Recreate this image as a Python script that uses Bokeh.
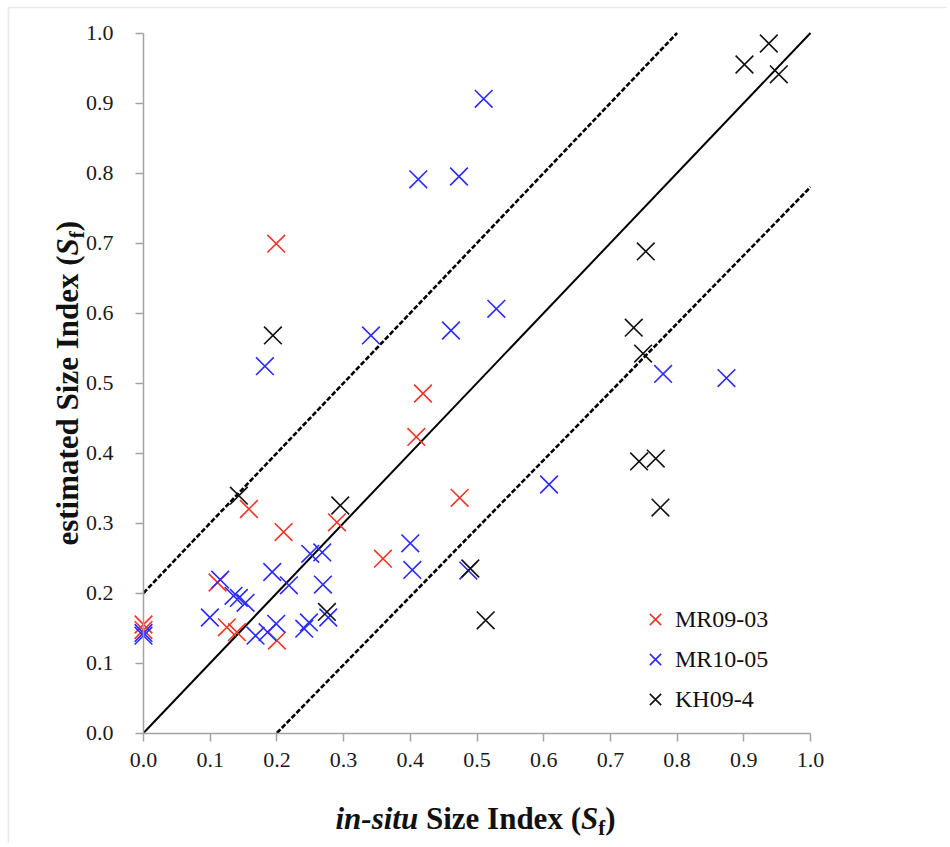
from math import pi
from bokeh.plotting import figure
from bokeh.models import Range1d, FixedTicker, NumeralTickFormatter, Legend, LegendItem, BoxAnnotation
from bokeh.embed import file_html
from bokeh.resources import INLINE
from bokeh.core.properties import value

# ---- data ----
mr0903_x = [0.0, 0.0, 0.199, 0.111, 0.125, 0.140, 0.158, 0.210, 0.290, 0.200, 0.359, 0.409, 0.419, 0.474]
mr0903_y = [0.155, 0.147, 0.699, 0.215, 0.151, 0.144, 0.320, 0.287, 0.301, 0.132, 0.249, 0.423, 0.485, 0.336]

mr1005_x = [0.0, 0.0, 0.0995, 0.115, 0.135, 0.143, 0.153, 0.168, 0.186, 0.199, 0.182, 0.193, 0.218,
            0.241, 0.248, 0.250, 0.268, 0.269, 0.277, 0.341, 0.400, 0.403, 0.412, 0.461, 0.473,
            0.487, 0.510, 0.529, 0.608, 0.779, 0.874]
mr1005_y = [0.143, 0.139, 0.165, 0.219, 0.196, 0.193, 0.186, 0.139, 0.144, 0.156, 0.524, 0.230, 0.211,
            0.149, 0.158, 0.256, 0.258, 0.212, 0.165, 0.568, 0.271, 0.233, 0.791, 0.575, 0.795,
            0.232, 0.906, 0.606, 0.355, 0.513, 0.507]

kh094_x = [0.143, 0.194, 0.275, 0.295, 0.490, 0.513, 0.735, 0.743, 0.749, 0.753, 0.768, 0.775, 0.901, 0.9375, 0.9525]
kh094_y = [0.339, 0.568, 0.173, 0.325, 0.235, 0.161, 0.579, 0.388, 0.542, 0.688, 0.392, 0.322, 0.955, 0.985, 0.941]

series_names = ["MR09-03", "MR10-05", "KH09-4"]
tick_values = [0.0, 0.1, 0.2, 0.3, 0.4, 0.5, 0.6, 0.7, 0.8, 0.9, 1.0]

one_to_one_x = [0.0, 1.0]
one_to_one_y = [0.0, 1.0]
upper_x = [0.0, 0.8]
upper_y = [0.2, 1.0]
lower_x = [0.2, 1.0]
lower_y = [0.0, 0.78]

# ---- layout (pixel positions on the page) ----
W, H = 946, 843
X0, X1 = 143.0, 810.0      # page x of data 0 and 1
Y0, Y1 = 732.5, 32.5       # page y of data 0 and 1
SX = X1 - X0
SY = Y0 - Y1


def dx(px):
    return (px - X0) / SX


def dy(py):
    return (Y0 - py) / SY


FONT = "Liberation Serif"
AXIS_GRAY = "#a3a3a3"
RED = "#f3352a"
BLUE = "#2b2bff"
BLACK = "#111111"

p = figure(width=W, height=H,
           x_range=Range1d(dx(0), dx(W)), y_range=Range1d(dy(H), dy(0)),
           output_backend="svg", toolbar_location=None,
           min_border_left=0, min_border_right=0, min_border_top=0, min_border_bottom=0)
p.outline_line_color = None
p.xgrid.visible = False
p.ygrid.visible = False
p.background_fill_color = "white"
p.border_fill_color = "white"

for ax in (p.xaxis[0], p.yaxis[0]):
    ax.fixed_location = 0
    ax.bounds = (0, 1)
    ax.ticker = FixedTicker(ticks=tick_values)
    ax.formatter = NumeralTickFormatter(format="0.0")
    ax.axis_line_color = AXIS_GRAY
    ax.axis_line_width = 1.5
    ax.major_tick_line_color = AXIS_GRAY
    ax.major_tick_line_width = 1.5
    ax.major_tick_out = 8
    ax.major_tick_in = 0
    ax.minor_tick_out = 0
    ax.minor_tick_in = 0
    ax.major_label_text_font = FONT
    ax.major_label_text_font_size = "22px"
    ax.major_label_text_color = "#1a1a1a"
p.xaxis[0].major_label_standoff = 12
p.yaxis[0].major_label_standoff = 22

# outer box of the figure (only its left and top edges fall inside the picture)
p.add_layout(BoxAnnotation(left=dx(8), right=dx(W + 20), top=dy(7), bottom=dy(H + 20),
                           fill_alpha=0, line_color="#b5b5b5", line_width=1.5, level="underlay"))

# reference lines
p.line(one_to_one_x, one_to_one_y, line_color="black", line_width=2)
p.line(upper_x, upper_y, line_color="black", line_width=2.6, line_dash="5 2")
p.line(lower_x, lower_y, line_color="black", line_width=2.6, line_dash="5 2")

r1 = p.scatter(mr0903_x, mr0903_y, marker="x", size=25, line_color=RED, line_width=1.6)
r2 = p.scatter(mr1005_x, mr1005_y, marker="x", size=25, line_color=BLUE, line_width=1.6)
r3 = p.scatter(kh094_x, kh094_y, marker="x", size=25, line_color=BLACK, line_width=1.6)

legend = Legend(items=[LegendItem(label=series_names[0], renderers=[r1]),
                       LegendItem(label=series_names[1], renderers=[r2]),
                       LegendItem(label=series_names[2], renderers=[r3])],
                location=(635, H - 719), border_line_color=None, background_fill_alpha=0,
                padding=0, margin=0, spacing=0, glyph_width=40, glyph_height=40,
                label_height=40, label_standoff=0, label_text_font=FONT,
                label_text_font_size="24px", label_text_color="#111111")
p.add_layout(legend)

# ---- axis titles (composed from pieces for italics / subscript) ----
F = "31px"
FS = "21px"


def title_piece(xp, yp, txt, align, size, style, angle=0.0):
    p.text(x=[dx(xp)], y=[dy(yp)], text=[txt], angle=angle,
           text_align=align, text_baseline="alphabetic",
           text_font=value(FONT), text_font_size=value(size),
           text_font_style=style, text_color="#111111")


# x title
xb = 818
title_piece(417.7, xb, "in-situ", "right", F, "bold italic")
title_piece(580.45, xb, "Size Index (", "right", F, "bold")
title_piece(580.45, xb, "S", "left", F, "bold italic")
title_piece(597.65, xb + 9, "f", "left", FS, "bold")
title_piece(604.65, xb, ")", "left", F, "bold")

# y title (rotated, reads bottom to top)
yb = 67
title_piece(yb, 254.9, "estimated Size Index (", "right", F, "bold", pi / 2)
title_piece(yb, 254.9, "S", "left", F, "bold italic", pi / 2)
title_piece(yb + 9, 237.7, "f", "left", FS, "bold", pi / 2)
title_piece(yb, 230.7, ")", "left", F, "bold", pi / 2)

open("out.html", "w").write(file_html(p, INLINE))
